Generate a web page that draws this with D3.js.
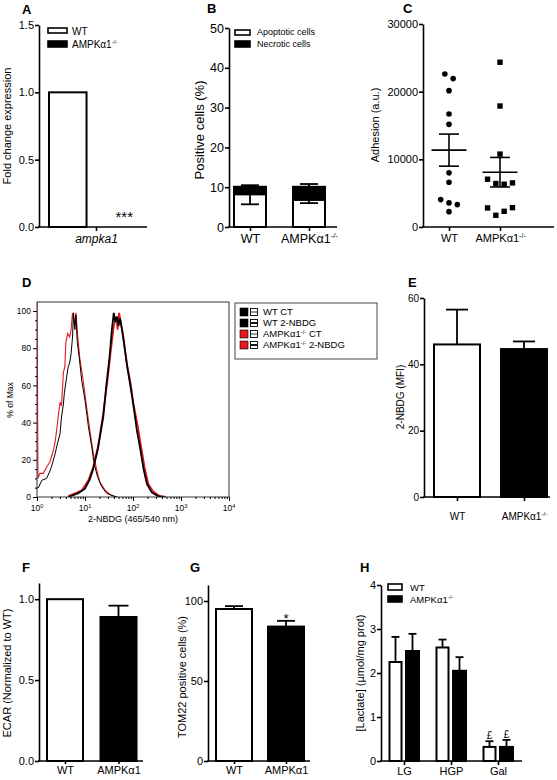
<!DOCTYPE html>
<html><head><meta charset="utf-8">
<script src="https://cdn.jsdelivr.net/npm/d3@7"></script>
<style>
body{margin:0;background:#fff}
svg{display:block}
text{font-family:"Liberation Sans",Arial,Helvetica,sans-serif;fill:#000}
</style></head>
<body><svg id="c" width="557" height="780"></svg>
<script>
// ---------------- DATA ----------------
const genotypes = ["WT", "AMPKα1-/-"];
const genotypesShort = ["WT", "AMPKα1"];
// A
const aGene = ["ampka1"];
const aWT = [1.0];
const aKO = [0.0];
const aTicks = [0, 0.5, 1.0, 1.5];
// B
const bApoptotic = [8.2, 6.8];
const bApoptoticSem = [2.5, 0.8];
const bNecrotic = [1.9, 3.3];
const bNecroticSem = [0.4, 0.7];
const bTicks = [0, 10, 20, 30, 40, 50];
// C
const cWT = [22620, 21930, 20150, 16700, 15170, 8000, 6620, 4050, 3560, 3310, 2270];
const cKO = [24350, 17880, 10770, 7060, 6420, 6320, 6520, 2820, 1730, 2320, 2860];
const cMean = [11360, 8100];
const cSem = [2370, 2180];
const cTicks = [0, 10000, 20000, 30000];
// D  (log10 intensity, % of max)
const dLegend = ["WT CT", "WT 2-NBDG", "AMPKα1-/- CT", "AMPKα1-/- 2-NBDG"];
const dWtCT = [[0,5],[0.03,5],[0.1,9],[0.2,10],[0.27,14],[0.31,17],[0.375,23],[0.41,27],[0.48,34],[0.51,43],[0.55,50],[0.57,56],[0.62,65],[0.65,70],[0.68,72],[0.71,77],[0.74,86],[0.76,99],[0.79,90],[0.81,98],[0.84,83],[0.88,75],[0.93,63],[1.0,52],[1.07,38],[1.14,27],[1.19,18],[1.26,11],[1.35,5.5],[1.45,2],[1.59,0.5],[1.68,0]];
const dKoCT = [[0,106],[0.008,75],[0.02,10],[0.06,12.7],[0.13,12.7],[0.2,16],[0.27,19],[0.34,25],[0.38,30],[0.41,36],[0.44,43],[0.48,51],[0.51,49],[0.55,67],[0.58,70],[0.6,83],[0.64,88],[0.68,86],[0.71,90],[0.74,99],[0.78,92],[0.81,99],[0.85,86],[0.89,75],[0.96,63],[1.03,49],[1.1,36],[1.17,24],[1.24,15],[1.31,8],[1.41,4],[1.51,1.5],[1.65,0]];
const dWt2 = [[0.65,0],[0.86,2],[1.0,4.5],[1.1,9.5],[1.17,15],[1.27,26],[1.38,43],[1.44,59],[1.51,75],[1.56,90],[1.6,99],[1.63,94],[1.67,97],[1.7,92],[1.73,96],[1.77,90],[1.81,83],[1.88,70],[1.95,59],[2.01,49],[2.08,36],[2.15,26],[2.22,15],[2.29,7],[2.39,2.5],[2.52,0.5],[2.66,0]];
const dKo2 = [[0.65,0.5],[0.93,3.5],[1.07,9],[1.17,16],[1.27,27],[1.38,45],[1.47,63],[1.53,77],[1.6,92],[1.65,97],[1.68,90],[1.71,99],[1.76,92],[1.8,86],[1.87,72],[1.95,61],[2.01,50],[2.1,38],[2.17,27],[2.24,16],[2.32,7],[2.42,3],[2.55,0.5],[2.69,0]];
const dYTicks = [0, 20, 40, 60, 80, 100];
const dXDecades = [0, 1, 2, 3, 4];
// E
const eMean = [46, 44.6];
const eSem = [10.5, 2.3];
const eTicks = [0, 20, 40, 60];
// F
const fMean = [1.0, 0.89];
const fSem = [0, 0.07];
const fTicks = [0, 0.5, 1.0];
// G
const gMean = [95, 84];
const gSem = [1.8, 3.6];
const gTicks = [0, 50, 100];
// H
const hCats = ["LG", "HGP", "Gal"];
const hWT = [2.25, 2.58, 0.32];
const hWTSem = [0.57, 0.18, 0.13];
const hKO = [2.5, 2.05, 0.32];
const hKOSem = [0.39, 0.31, 0.16];
const hTicks = [0, 1, 2, 3, 4];

// ---------------- HELPERS ----------------
const svg = d3.select("#c");
const FONT = '"Liberation Sans", Arial, Helvetica, sans-serif';

function rich(sel, s, fs) {
  sel.text(null);
  const i = s.indexOf("-/-");
  if (i < 0) { sel.text(s); return; }
  sel.append("tspan").text(s.slice(0, i));
  sel.append("tspan").attr("font-size", fs * 0.62).attr("dy", -fs * 0.38).text("-/-");
  const rest = s.slice(i + 3);
  if (rest) sel.append("tspan").attr("dy", fs * 0.38).text(rest);
}
function txt(x, y, s, fs, anchor = "start", weight = "normal", style = "normal") {
  const t = svg.append("text").attr("x", x).attr("y", y).attr("font-size", fs)
    .attr("text-anchor", anchor).attr("font-weight", weight).attr("font-style", style);
  rich(t, s, fs);
  return t;
}
function yLabel(s, cx, cy, fs) {
  svg.append("text").attr("transform", `translate(${cx},${cy}) rotate(-90)`)
    .attr("text-anchor", "middle").attr("dy", "0.35em").attr("font-size", fs).text(s);
}
function styleAxis(g, fs) {
  g.attr("font-size", fs).attr("font-family", FONT);
  g.selectAll("path.domain").attr("stroke", "#000").attr("stroke-width", 1.6);
  g.selectAll(".tick line").attr("stroke", "#000").attr("stroke-width", 1.6);
  g.selectAll(".tick text").attr("fill", "#000");
}
function yAxis(x, y, ticks, fmt, fs, size = 4, pad = 1) {
  const g = svg.append("g").attr("transform", `translate(${x},0)`)
    .call(d3.axisLeft(y).tickValues(ticks).tickFormat(fmt).tickSize(size).tickSizeOuter(0).tickPadding(pad));
  styleAxis(g, fs);
  return g;
}
function xAxis(x0, x1, y0, pts, fs, size = 4, pad = 3) {
  svg.append("line").attr("x1", x0 - 0.8).attr("x2", x1).attr("y1", y0).attr("y2", y0)
    .attr("stroke", "#000").attr("stroke-width", 1.6);
  const g = svg.append("g").attr("transform", `translate(0,${y0})`)
    .call(d3.axisBottom(pts).tickSize(size).tickPadding(pad));
  g.select("path.domain").remove();
  styleAxis(g, fs);
  g.selectAll(".tick text").each(function (d) { rich(d3.select(this), d, fs); });
  return g;
}
function bar(cx, w, yTop, yBase, fill) {
  svg.append("rect").attr("x", cx - w / 2).attr("y", Math.min(yTop, yBase)).attr("width", w)
    .attr("height", Math.abs(yBase - yTop)).attr("fill", fill).attr("stroke", "#000").attr("stroke-width", 2);
}
function errBar(cx, yFrom, yTo, cap) {
  svg.append("line").attr("x1", cx).attr("x2", cx).attr("y1", yFrom).attr("y2", yTo)
    .attr("stroke", "#000").attr("stroke-width", 1.8);
  svg.append("line").attr("x1", cx - cap).attr("x2", cx + cap).attr("y1", yTo).attr("y2", yTo)
    .attr("stroke", "#000").attr("stroke-width", 1.8);
}
function legendBox(x, y, w, h, fill) {
  svg.append("rect").attr("x", x).attr("y", y).attr("width", w).attr("height", h)
    .attr("fill", fill).attr("stroke", "#000").attr("stroke-width", 1.6);
}
function letter(s, x, y) { txt(x, y, s, 13, "start", "bold"); }
const fmt1 = d3.format(".1f");
const fmt0 = d3.format("d");

// ---------------- PANEL A ----------------
{
  letter("A", 22, 14);
  const y = d3.scaleLinear().domain([0, 1.5]).range([227, 25]);
  const x = d3.scalePoint().domain(aGene).range([96, 96]);
  const sub = d3.scaleBand().domain(genotypes).range([-48, 48]).paddingInner(0.3);
  const bw = sub.bandwidth() - 2;
  aGene.forEach((gname, i) => {
    bar(x(gname) + sub(genotypes[0]) + sub.bandwidth() / 2, bw, y(aWT[i]), y(0), "#fff");
    bar(x(gname) + sub(genotypes[1]) + sub.bandwidth() / 2, bw, y(aKO[i]), y(0), "#000");
    txt(x(gname) + sub(genotypes[1]) + sub.bandwidth() / 2, y(aKO[i]) - 5, "***", 15, "middle");
  });
  yAxis(39, y, aTicks, fmt1, 11);
  const ax = xAxis(39, 147, 227, x, 12, 4, 3);
  ax.selectAll(".tick text").attr("font-style", "italic");
  yLabel("Fold change expression", 7, 126, 11);
  legendBox(48, 28, 19, 5, "#fff"); legendBox(48, 41, 19, 6, "#000");
  txt(72, 35, genotypes[0], 10); txt(72, 48, genotypes[1], 10);
}

// ---------------- PANEL B ----------------
{
  letter("B", 207, 13);
  const y = d3.scaleLinear().domain([0, 50]).range([227, 28]);
  const x = d3.scalePoint().domain(genotypes).range([250, 309]);
  const bw = 32;
  genotypes.forEach((gname, i) => {
    const cx = x(gname);
    const top1 = bApoptotic[i], top2 = bApoptotic[i] + bNecrotic[i];
    bar(cx, bw, y(top2), y(top1), "#000");
    bar(cx, bw, y(top1), y(0), "#fff");
    errBar(cx, y(top1), y(top1 - bApoptoticSem[i]), 9);
    errBar(cx, y(top2), y(top2 + bNecroticSem[i]), 9);
  });
  yAxis(229, y, bTicks, fmt0, 12.5, 4, 1);
  xAxis(229, 337, 227, x, 12.5, 4, 3);
  yLabel("Positive cells (%)", 199, 130, 13);
  legendBox(235, 30, 15, 5, "#fff"); legendBox(235, 41, 15, 6, "#000");
  txt(257, 35, "Apoptotic cells", 9); txt(257, 47, "Necrotic cells", 9);
}

// ---------------- PANEL C ----------------
{
  letter("C", 403, 13);
  const y = d3.scaleLinear().domain([0, 30000]).range([227, 24]);
  const x = d3.scalePoint().domain(genotypes).range([449, 500]);
  // column-scatter spreading of points with close values
  function spread(vals) {
    const idx = vals.map((v, i) => i).sort((a, b) => vals[b] - vals[a]);
    const groups = []; let cur = [idx[0]];
    for (let k = 1; k < idx.length; k++) {
      if (y(vals[idx[k]]) - y(vals[idx[k - 1]]) < 6) cur.push(idx[k]);
      else { groups.push(cur); cur = [idx[k]]; }
    }
    groups.push(cur);
    const off = new Array(vals.length).fill(0);
    groups.forEach(g => { g.sort((a, b) => a - b); g.forEach((id, j) => off[id] = (j - (g.length - 1) / 2) * 8.3); });
    return off;
  }
  const oW = spread(cWT), oK = spread(cKO);
  cWT.forEach((v, i) => svg.append("circle").attr("cx", x(genotypes[0]) + oW[i]).attr("cy", y(v)).attr("r", 2.8).attr("fill", "#000"));
  cKO.forEach((v, i) => svg.append("rect").attr("x", x(genotypes[1]) + oK[i] - 2.7).attr("y", y(v) - 2.7).attr("width", 5.4).attr("height", 5.4).attr("fill", "#000"));
  genotypes.forEach((gname, i) => {
    const cx = x(gname);
    const l = (x1, x2, yy) => svg.append("line").attr("x1", x1).attr("x2", x2).attr("y1", yy).attr("y2", yy).attr("stroke", "#000").attr("stroke-width", 1.6);
    l(cx - 17.5, cx + 17.5, y(cMean[i]));
    l(cx - 10, cx + 10, y(cMean[i] + cSem[i]));
    l(cx - 10, cx + 10, y(cMean[i] - cSem[i]));
    svg.append("line").attr("x1", cx).attr("x2", cx).attr("y1", y(cMean[i] + cSem[i])).attr("y2", y(cMean[i] - cSem[i])).attr("stroke", "#000").attr("stroke-width", 1.6);
  });
  yAxis(423, y, cTicks, fmt0, 11, 4, 1);
  xAxis(423, 554, 227, x, 11, 4, 3);
  yLabel("Adhesion (a.u.)", 375, 125, 11);
}

// ---------------- PANEL D ----------------
{
  letter("D", 22, 287);
  const x = d3.scaleLog().domain([1, 1e4]).range([37, 229]);
  const y = d3.scaleLinear().domain([0, 100]).range([497, 311]);
  const top = 302;
  svg.append("defs").append("clipPath").attr("id", "dclip").append("rect")
    .attr("x", 37).attr("y", top).attr("width", 192).attr("height", 497 - top);
  const line = d3.line().x(d => x(Math.pow(10, d[0]))).y(d => y(d[1]));
  const gp = svg.append("g").attr("clip-path", "url(#dclip)");
  const RED = "#e3191f";
  gp.append("path").attr("d", line(dKoCT)).attr("fill", "none").attr("stroke", RED).attr("stroke-width", 1.1);
  gp.append("path").attr("d", line(dWtCT)).attr("fill", "none").attr("stroke", "#000").attr("stroke-width", 1);
  gp.append("path").attr("d", line(dKo2)).attr("fill", "none").attr("stroke", RED).attr("stroke-width", 1.8);
  gp.append("path").attr("d", line(dWt2)).attr("fill", "none").attr("stroke", "#000").attr("stroke-width", 1.8);
  svg.append("rect").attr("x", 37).attr("y", top).attr("width", 192).attr("height", 497 - top)
    .attr("fill", "none").attr("stroke", "#333").attr("stroke-width", 1);
  // y axis
  const gy = svg.append("g").attr("transform", "translate(37,0)")
    .call(d3.axisLeft(y).tickValues(dYTicks).tickSize(4).tickPadding(2).tickSizeOuter(0));
  gy.select("path.domain").remove();
  styleAxis(gy, 8.5);
  gy.selectAll(".tick line").attr("stroke-width", 1);
  const minorY = d3.range(0, 101, 5).filter(v => v % 20 !== 0);
  svg.append("g").attr("transform", "translate(37,0)")
    .call(d3.axisLeft(y).tickValues(minorY).tickSize(2).tickFormat(""))
    .call(g => { g.select("path.domain").remove(); g.selectAll(".tick line").attr("stroke", "#000"); });
  // x axis
  const majors = dXDecades.map(k => Math.pow(10, k));
  const gx = svg.append("g").attr("transform", "translate(0,497)")
    .call(d3.axisBottom(x).tickValues(majors).tickSize(4).tickFormat(""));
  gx.select("path.domain").remove();
  gx.selectAll(".tick line").attr("stroke", "#000").attr("stroke-width", 1);
  const minors = [];
  dXDecades.slice(0, 4).forEach(k => { for (let m = 2; m < 10; m++) minors.push(m * Math.pow(10, k)); });
  svg.append("g").attr("transform", "translate(0,497)")
    .call(d3.axisBottom(x).tickValues(minors).tickSize(2).tickFormat(""))
    .call(g => { g.select("path.domain").remove(); g.selectAll(".tick line").attr("stroke", "#000"); });
  dXDecades.forEach(k => {
    const t = svg.append("text").attr("x", x(Math.pow(10, k))).attr("y", 511).attr("font-size", 8.5).attr("text-anchor", "middle");
    t.append("tspan").text("10");
    t.append("tspan").attr("font-size", 5.5).attr("dy", -3.5).text(k);
  });
  txt(133, 522, "2-NBDG (465/540 nm)", 9, "middle");
  yLabel("% of Max", 10, 400, 8.5);
  // legend
  svg.append("rect").attr("x", 235).attr("y", 303).attr("width", 142).attr("height", 56)
    .attr("fill", "none").attr("stroke", "#444").attr("stroke-width", 1);
  const lcol = ["#000", "#000", RED, RED];
  dLegend.forEach((s, i) => {
    const cy = 312 + i * 11;
    svg.append("rect").attr("x", 240).attr("y", cy - 4).attr("width", 8).attr("height", 8).attr("fill", lcol[i]).attr("stroke", "#000").attr("stroke-width", 0.6);
    svg.append("rect").attr("x", 250.5).attr("y", cy - 3.5).attr("width", 7).attr("height", 7).attr("fill", "#fff").attr("stroke", "#000").attr("stroke-width", 0.9);
    svg.append("line").attr("x1", 250.5).attr("x2", 257.5).attr("y1", cy).attr("y2", cy).attr("stroke", "#000").attr("stroke-width", i % 2 ? 1.8 : 0.8);
    txt(263, cy + 3.4, s, 9.5);
  });
}

// ---------------- PANEL E ----------------
{
  letter("E", 408, 287);
  const y = d3.scaleLinear().domain([0, 60]).range([497, 298]);
  const x = d3.scalePoint().domain(genotypes).range([457, 524]);
  const fills = ["#fff", "#000"];
  genotypes.forEach((gname, i) => {
    errBar(x(gname), y(eMean[i]), y(eMean[i] + eSem[i]), 11);
    bar(x(gname), 46, y(eMean[i]), y(0), fills[i]);
  });
  yAxis(424, y, eTicks, fmt0, 10, 4, 1);
  xAxis(424, 550, 497, x, 10, 4, 12);
  yLabel("2-NBDG (MFI)", 400, 397, 10);
}

// ---------------- PANEL F ----------------
{
  letter("F", 22, 572);
  const y = d3.scaleLinear().domain([0, 1.1]).range([761, 583]);
  const x = d3.scalePoint().domain(genotypesShort).range([65, 118.5]);
  const fills = ["#fff", "#000"];
  genotypesShort.forEach((gname, i) => {
    if (fSem[i] > 0) errBar(x(gname), y(fMean[i]), y(fMean[i] + fSem[i]), 10);
    bar(x(gname), 36, y(fMean[i]), y(0), fills[i]);
  });
  yAxis(39, y, fTicks, fmt1, 11, 4, 1);
  xAxis(39, 143, 761, x, 11, 3, 2);
  yLabel("ECAR (Normalized to WT)", 7, 673, 11);
}

// ---------------- PANEL G ----------------
{
  letter("G", 190, 572);
  const y = d3.scaleLinear().domain([0, 110]).range([761, 585]);
  const x = d3.scalePoint().domain(genotypesShort).range([234, 286]);
  const fills = ["#fff", "#000"];
  genotypesShort.forEach((gname, i) => {
    errBar(x(gname), y(gMean[i]), y(gMean[i] + gSem[i]), 9);
    bar(x(gname), 36, y(gMean[i]), y(0), fills[i]);
  });
  txt(x(genotypesShort[1]), y(gMean[1] + gSem[1]) + 2, "*", 13, "middle");
  yAxis(208, y, gTicks, fmt0, 11, 4, 1);
  xAxis(208, 310, 761, x, 11, 3, 2);
  yLabel("TOM22 positive cells (%)", 182, 677, 11);
}

// ---------------- PANEL H ----------------
{
  letter("H", 360, 572);
  const y = d3.scaleLinear().domain([0, 4]).range([761, 585]);
  const x = d3.scalePoint().domain(hCats).range([404, 498]);
  hCats.forEach((c, i) => {
    const cw = x(c) - 8.5, ck = x(c) + 8.5;
    errBar(cw, y(hWT[i]), y(hWT[i] + hWTSem[i]), 4);
    errBar(ck, y(hKO[i]), y(hKO[i] + hKOSem[i]), 4);
    bar(cw, 12, y(hWT[i]), y(0), "#fff");
    bar(ck, 13, y(hKO[i]), y(0), "#000");
    if (c === "Gal") {
      txt(cw, y(hWT[i] + hWTSem[i]) - 2, "£", 10, "middle");
      txt(ck, y(hKO[i] + hKOSem[i]) - 2, "£", 10, "middle");
    }
  });
  yAxis(381, y, hTicks, fmt0, 11, 4, 1);
  xAxis(381, 522, 761, x, 11, 4, 2);
  yLabel("[Lactate] (µmol/mg prot)", 360, 673, 11);
  legendBox(388, 584, 14, 6, "#fff"); legendBox(388, 596, 14, 6, "#000");
  txt(410, 591, genotypes[0], 9.5); txt(410, 603, genotypes[1], 9.5);
}
</script></body></html>
